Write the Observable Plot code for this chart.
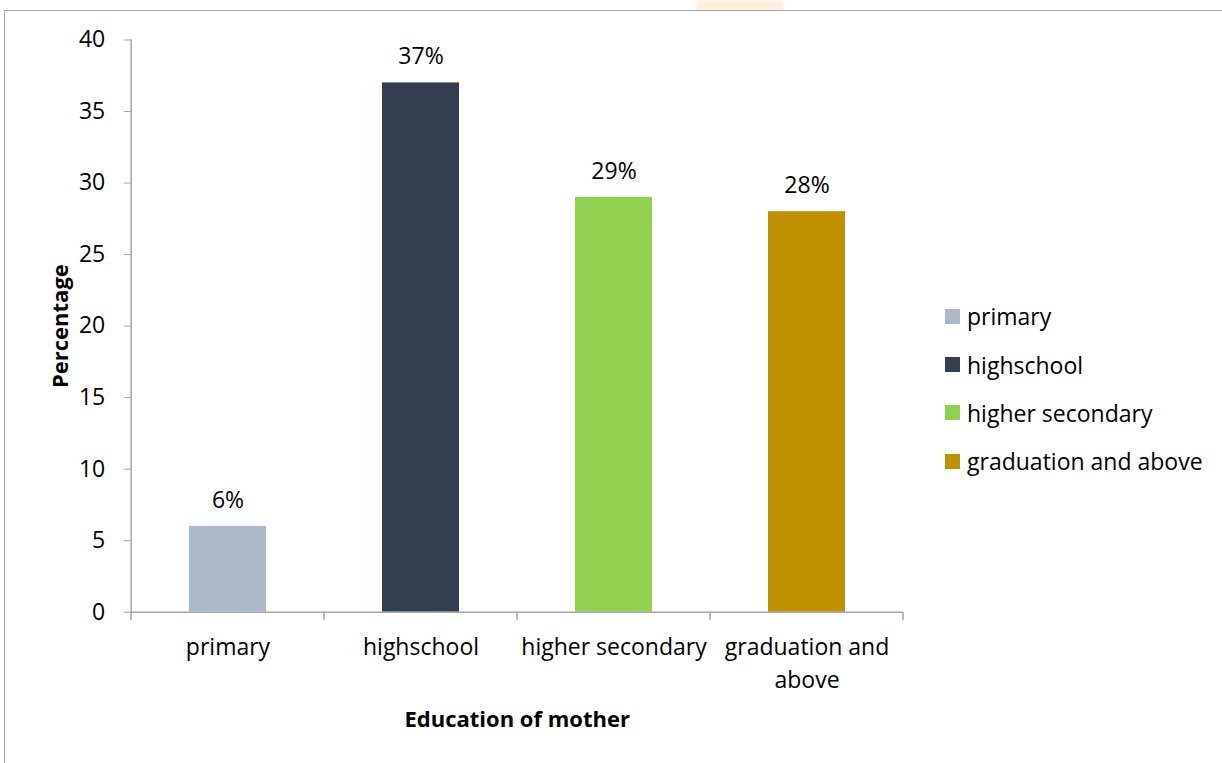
<!DOCTYPE html>
<html>
<head>
<meta charset="utf-8">
<script src="https://cdn.jsdelivr.net/npm/d3@7"></script>
<script src="https://cdn.jsdelivr.net/npm/@observablehq/plot@0.6"></script>
<style>
  html, body { margin: 0; padding: 0; background: #fff; }
  #wrap { position: relative; width: 1222px; height: 763px; overflow: hidden; font-family: "Open Sans", "Noto Sans", sans-serif; }
  #wrap svg { position: absolute; left: 0; top: 0; }
  .border-top { position: absolute; left: 5px; top: 10px; right: 0; height: 0; border-top: 1.5px solid #a6a6a6; }
  .border-left { position: absolute; left: 4px; top: 10px; bottom: 0; width: 0; border-left: 1.5px solid #a6a6a6; }
  .glow { position: absolute; left: 697px; top: 0; width: 86px; height: 10px; background: #ffeedd; filter: blur(1px); }
  .legend { position: absolute; left: 945px; top: 0; }
  .legend .item { position: absolute; left: 0; height: 24px; display: flex; align-items: center; white-space: nowrap; font-size: 23px; color: #000; }
  .legend .sw { width: 15px; height: 15px; margin-right: 7px; }
</style>
</head>
<body>
<div id="wrap">
  <div class="glow"></div>
  <div class="border-top"></div>
  <div class="border-left"></div>
</div>
<script>
// Share of mothers by education level (percent)
const categories = ["primary", "highschool", "higher secondary", "graduation and above"];
const values = [6, 37, 29, 28];
const colors = ["#adb9ca", "#333f50", "#92d050", "#bf9000"];
const tickLabels = ["primary", "highschool", "higher secondary", "graduation and\nabove"];
const yTicks = [0, 5, 10, 15, 20, 25, 30, 35, 40];

const rows = categories.map((c, i) => ({category: c, value: values[i]}));

// Category boundary ticks below the baseline, drawn between bands
function boundaryTicks(index, scales) {
  const x = scales.x, y = scales.y;
  const step = x(categories[1]) - x(categories[0]);
  const desc = scales.scales && scales.scales.x;
  const bw = desc && desc.bandwidth != null ? desc.bandwidth : step * 0.4;
  const pad = (step - bw) / 2;
  const y0 = y(0);
  const g = d3.create("svg:g").attr("stroke", "#a6a6a6").attr("stroke-width", 1.5);
  const first = x(categories[0]) - pad;
  for (let i = 0; i <= categories.length; i++) {
    const e = first + i * step;
    g.append("line").attr("x1", e).attr("x2", e).attr("y1", y0).attr("y2", y0 + 8);
  }
  return g.node();
}

const chart = Plot.plot({
  width: 1222,
  height: 763,
  marginLeft: 130.7,
  marginRight: 319.3,
  marginTop: 39.5,
  marginBottom: 151.3,
  style: {fontFamily: "'Open Sans', 'Noto Sans', sans-serif", fontSize: "23px", color: "#000", background: "transparent"},
  x: {domain: categories, paddingInner: 0.6, paddingOuter: 0.3, label: null},
  y: {domain: [0, 40], label: null},
  color: {domain: categories, range: colors},
  marks: [
    Plot.barY(rows, {x: "category", y: "value", fill: "category"}),
    Plot.text(rows, {x: "category", y: "value", text: d => `${d.value}%`, dy: -26, fontSize: 23}),
    Plot.frame({anchor: "left", stroke: "#a6a6a6", strokeWidth: 1.5, strokeOpacity: 1}),
    Plot.ruleY([0], {stroke: "#a6a6a6", strokeWidth: 1.5}),
    Plot.axisY({ticks: yTicks, tickSize: 7, tickPadding: 19, stroke: "#a6a6a6", strokeOpacity: 1, label: null, fontSize: 23}),
    Plot.axisX({tickSize: 0, tickPadding: 20, tickFormat: d => tickLabels[categories.indexOf(d)], lineHeight: 1.42, label: null, fontSize: 23}),
    boundaryTicks,
    Plot.text(["Percentage"], {frameAnchor: "left", textAnchor: "middle", rotate: -90, dx: -70, fontWeight: "bold", fontSize: 22}),
    Plot.text(["Education of mother"], {frameAnchor: "bottom", dy: 115, fontWeight: "bold", fontSize: 22})
  ]
});

const wrap = document.getElementById("wrap");
wrap.appendChild(chart);

// Legend entries, one per category
const legend = document.createElement("div");
legend.className = "legend";
const legendRowCenters = [316, 364.5, 412.5, 461];
categories.forEach((c, i) => {
  const item = document.createElement("div");
  item.className = "item";
  item.style.top = (legendRowCenters[i] - 12) + "px";
  const sw = document.createElement("div");
  sw.className = "sw";
  sw.style.background = colors[i];
  const label = document.createElement("span");
  label.textContent = c;
  item.appendChild(sw);
  item.appendChild(label);
  legend.appendChild(item);
});
wrap.appendChild(legend);
</script>
</body>
</html>
